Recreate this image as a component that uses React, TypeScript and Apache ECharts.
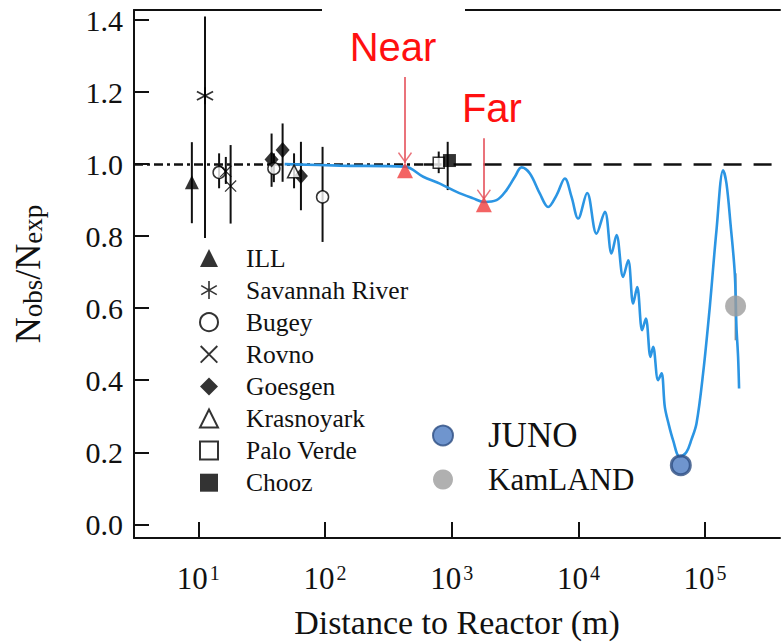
import React, { useEffect, useRef } from 'react';
import * as echarts from 'echarts';

// ---- Data (distance in m, Nobs/Nexp) ----
const illPoints = [[8.9, 0.95]];
const illErrors = [[8.9, 0.836, 1.061]];
const savannahPoints = [[11.3, 1.19]];
const savannahErrors = [[11.3, 0.795, 1.41]];
const bugeyPoints = [[14.6, 0.977], [39.5, 0.988], [95.7, 0.909]];
const bugeyErrors = [[14.6, 0.933, 1.03], [39.5, 0.95, 1.03], [95.7, 0.784, 1.048]];
const rovnoPoints = [[16.5, 0.98], [18.0, 0.939]];
const rovnoErrors = [[16.5, 0.945, 1.02], [18.0, 0.835, 1.053]];
const goesgenPoints = [[37.9, 1.013], [46.3, 1.039], [64.6, 0.967]];
const goesgenErrors = [[37.9, 0.937, 1.085], [46.3, 0.951, 1.113], [64.6, 0.872, 1.062]];
const krasnoyarskPoints = [[57, 0.98]];
const krasnoyarskErrors = [[57, 0.933, 1.03]];
const paloVerdePoints = [[790, 1.004]];
const paloVerdeErrors = [[790, 0.975, 1.035]];
const choozPoints = [[960, 1.01]];
const choozErrors = [[930, 0.928, 1.062]];
const nearFarPoints = [[428, 0.983], [1795, 0.889]];
const nearFarLabels = ['Near', 'Far'];
const arrowTop = [1.242, 1.072];
const arrowTip = [1.003, 0.9];
const junoPoints = [[64300, 0.164]];
const kamlandPoints = [[174000, 0.606]];
const kamlandErrors = [[174000, 0.511, 0.697]];

const curveDistance = [48, 131, 428, 596, 807, 1094, 1479, 1795, 2259, 2709, 3153, 3558, 4140, 4966, 5774,
  6730, 7820, 8830, 9950, 11720, 13900, 16180, 18270, 20000, 22550, 24720, 27060, 29100, 31860, 34070,
  37070, 38900, 42580, 45290, 48080, 51070, 55930, 63140, 71340, 78000, 85500, 96400, 108900, 123000,
  138800, 147500, 158600, 171500, 176800, 182100, 185400];
const curveRatio = [1.0, 0.996, 0.993, 0.965, 0.946, 0.923, 0.905, 0.895, 0.9, 0.928, 0.965, 0.991, 0.974, 0.918, 0.881,
  0.914, 0.96, 0.909, 0.849, 0.92, 0.807, 0.868, 0.752, 0.803, 0.687, 0.733, 0.613, 0.659, 0.539, 0.571,
  0.465, 0.493, 0.4, 0.419, 0.326, 0.284, 0.233, 0.187, 0.201, 0.235, 0.28, 0.419, 0.604, 0.817,
  0.983, 0.946, 0.835, 0.696, 0.548, 0.465, 0.377];

const yTicks = [0, 0.2, 0.4, 0.6, 0.8, 1.0, 1.2, 1.4];
const xTicks = [10, 100, 1000, 10000, 100000];

const X_MIN = 3.11;
const X_MAX = 390000;
const Y_MIN = -0.038;
const Y_MAX = 1.428;

const SERIF = '"Liberation Serif", "Times New Roman", Times, "DejaVu Serif", serif';
const SANS = '"Liberation Sans", Arial, Helvetica, sans-serif';

const ASTERISK = 'path://M-0.9,-10L0.9,-10L0.9,10L-0.9,10Z M8.21,-5.78L9.11,-4.22L-8.21,5.78L-9.11,4.22Z M9.11,4.22L8.21,5.78L-9.11,-4.22L-8.21,-5.78Z';
const CROSS = 'path://M6.505,-7.637L7.637,-6.505L-6.505,7.637L-7.637,6.505Z M7.637,6.505L6.505,7.637L-7.637,-6.505L-6.505,-7.637Z';
const CHEVRON = 'path://M0,10L-7,1L-6,0L0,7.6L6,0L7,1Z';

const openStyle = { color: '#fff', borderColor: '#000', borderWidth: 1.5 };
const ARROW_COLOR = '#e5505a';

function errorSeries(name: string, data: number[][], color: string) {
  return {
    name,
    type: 'custom',
    z: 1,
    silent: true,
    data,
    encode: { x: 0, y: [1, 2] },
    renderItem: (params: any, api: any) => {
      const x = api.value(0);
      const p1 = api.coord([x, api.value(1)]);
      const p2 = api.coord([x, api.value(2)]);
      return {
        type: 'line',
        shape: { x1: p1[0], y1: p1[1], x2: p2[0], y2: p2[1] },
        style: { stroke: color, lineWidth: 2 },
      };
    },
  };
}

export default function App() {
  const ref = useRef<HTMLDivElement>(null);
  useEffect(() => {
    if (!ref.current) return;
    const chart = echarts.init(ref.current, null, { renderer: 'svg' });
    const blackErrors = [
      ...illErrors, ...savannahErrors, ...bugeyErrors, ...rovnoErrors, ...goesgenErrors,
      ...krasnoyarskErrors, ...paloVerdeErrors, ...choozErrors,
    ];
    const option: any = {
      animation: false,
      backgroundColor: '#fff',
      textStyle: { fontFamily: SERIF },
      grid: { left: 134, right: 2, top: 10, bottom: 105, containLabel: false, outerBoundsMode: 'none' },
      xAxis: [
        {
          type: 'log',
          logBase: 10,
          min: X_MIN,
          max: X_MAX,
          position: 'bottom',
          name: 'Distance to Reactor (m)',
          nameLocation: 'middle',
          nameGap: 67,
          nameMoveOverlap: false,
          nameTextStyle: { fontFamily: SERIF, fontSize: 34, color: '#111' },
          axisLine: { show: true, onZero: false, lineStyle: { color: '#111', width: 2 } },
          axisTick: { show: true, inside: true, length: 16, customValues: xTicks, lineStyle: { color: '#111', width: 2 } },
          splitLine: { show: false },
          minorTick: { show: false },
          axisLabel: {
            customValues: xTicks,
            margin: 25,
            formatter: (v: number) => `{b|10}{s|${Math.round(Math.log10(v))}}`,
            rich: {
              b: { fontFamily: SERIF, fontSize: 31, color: '#111' },
              s: { fontFamily: SERIF, fontSize: 20, color: '#111', verticalAlign: 'top', padding: [0, 0, 0, 2] },
            },
          },
        },
        {
          type: 'log',
          logBase: 10,
          min: X_MIN,
          max: X_MAX,
          position: 'top',
          axisLine: { show: true, onZero: false, lineStyle: { color: '#111', width: 2 } },
          axisTick: { show: false },
          axisLabel: { show: false },
          splitLine: { show: false },
        },
      ],
      yAxis: {
        type: 'value',
        min: Y_MIN,
        max: Y_MAX,
        name: '{N|N}{s|obs}{N|/N}{s|exp}',
        nameLocation: 'middle',
        nameRotate: 90,
        nameGap: 88,
        nameMoveOverlap: false,
        nameTextStyle: {
          rich: {
            N: { fontFamily: SERIF, fontSize: 36, color: '#111', lineHeight: 36 },
            s: { fontFamily: SERIF, fontSize: 27, color: '#111', verticalAlign: 'bottom', lineHeight: 27 },
          },
        },
        axisLine: { show: true, onZero: false, lineStyle: { color: '#111', width: 2 } },
        axisTick: { show: true, inside: true, length: 15, customValues: yTicks, lineStyle: { color: '#111', width: 2 } },
        splitLine: { show: false },
        axisLabel: {
          customValues: yTicks,
          margin: 11,
          fontFamily: SERIF,
          fontSize: 30,
          color: '#111',
          formatter: (v: number) => v.toFixed(1),
        },
      },
      legend: [
        {
          data: [
            { name: 'ILL', icon: 'triangle' },
            { name: 'Savannah River', icon: ASTERISK },
            { name: 'Bugey', icon: 'circle' },
            { name: 'Rovno', icon: CROSS },
            { name: 'Goesgen', icon: 'diamond' },
            { name: 'Krasnoyark', icon: 'triangle' },
            { name: 'Palo Verde', icon: 'rect' },
            { name: 'Chooz', icon: 'rect' },
          ],
          orient: 'vertical',
          left: 199,
          top: 245,
          padding: 0,
          itemWidth: 18,
          itemHeight: 18,
          itemGap: 6.1,
          selectedMode: false,
          textStyle: { fontFamily: SERIF, fontSize: 25.5, lineHeight: 24, color: '#111', padding: [0, 0, 0, 23] },
        },
        {
          data: [
            { name: 'JUNO', icon: 'circle', textStyle: { fontSize: 35 } },
            { name: 'KamLAND', icon: 'circle', textStyle: { fontSize: 31 } },
          ],
          orient: 'vertical',
          left: 427,
          top: 413,
          itemWidth: 20,
          itemHeight: 20,
          itemGap: 10,
          selectedMode: false,
          textStyle: { fontFamily: SERIF, fontSize: 33, lineHeight: 33, color: '#111', padding: [0, 0, 0, 30] },
        },
      ],
      graphic: [
        { type: 'rect', z: 100, shape: { x: 322, y: 0, width: 143, height: 22 }, style: { fill: '#fff' } },
      ],
      series: [
        errorSeries('blackErrors', blackErrors, '#111'),
        errorSeries('kamlandErrors', kamlandErrors, '#8f8f8f'),
        {
          name: 'oscillation',
          type: 'line',
          z: 2,
          data: curveDistance.map((d, i) => [d, curveRatio[i]]),
          showSymbol: false,
          symbol: 'none',
          smooth: 0.35,
          lineStyle: { color: '#2b95e3', width: 2.6 },
          silent: true,
          markLine: {
            silent: true,
            symbol: 'none',
            z: 1,
            label: { show: false },
            data: [
              [
                { coord: [X_MIN, 1], lineStyle: { color: '#111', width: 2.5, type: [9, 4, 3, 4] } },
                { coord: [600, 1] },
              ],
              [
                { coord: [600, 1], lineStyle: { color: '#111', width: 2.5, type: [18, 12] } },
                { coord: [X_MAX, 1] },
              ],
            ],
          },
        },
        { name: 'ILL', type: 'scatter', z: 3, data: illPoints, symbol: 'triangle', symbolSize: 14, itemStyle: { color: '#000' } },
        { name: 'Savannah River', type: 'scatter', z: 3, data: savannahPoints, symbol: ASTERISK, symbolSize: 17, itemStyle: { color: '#000' } },
        { name: 'Bugey', type: 'scatter', z: 3, data: bugeyPoints, symbol: 'circle', symbolSize: 12, itemStyle: openStyle },
        { name: 'Rovno', type: 'scatter', z: 3, data: rovnoPoints, symbol: CROSS, symbolSize: 12, itemStyle: { color: '#000' } },
        { name: 'Goesgen', type: 'scatter', z: 3, data: goesgenPoints, symbol: 'diamond', symbolSize: [14, 16], itemStyle: { color: '#000' } },
        { name: 'Krasnoyark', type: 'scatter', z: 3, data: krasnoyarskPoints, symbol: 'triangle', symbolSize: 13, itemStyle: openStyle },
        { name: 'Palo Verde', type: 'scatter', z: 3, data: paloVerdePoints, symbol: 'rect', symbolSize: 11, itemStyle: openStyle },
        { name: 'Chooz', type: 'scatter', z: 3, data: choozPoints, symbol: 'rect', symbolSize: 13, itemStyle: { color: '#000' } },
        {
          name: 'Near/Far',
          type: 'scatter',
          z: 4,
          data: nearFarPoints,
          symbol: 'triangle',
          symbolSize: 16,
          itemStyle: { color: '#f03c3c' },
          markLine: {
            silent: true,
            z: 6,
            symbol: 'none',
            lineStyle: { color: ARROW_COLOR, width: 1.6, type: 'solid' },
            data: nearFarPoints.map((p, i) => [
              {
                coord: [p[0], arrowTop[i]],
                label: {
                  show: true,
                  position: 'start',
                  formatter: nearFarLabels[i],
                  color: '#ff1010',
                  fontFamily: SANS,
                  fontSize: 40,
                  distance: 10,
                  padding: i === 0 ? [0, 24, 0, 0] : [0, 0, 0, 16],
                },
              },
              { coord: [p[0], arrowTip[i]] },
            ]),
          },
        },
        {
          name: 'arrowHeads',
          type: 'scatter',
          z: 6,
          silent: true,
          data: nearFarPoints.map((p, i) => [p[0], arrowTip[i]]),
          symbol: CHEVRON,
          symbolSize: [14, 11],
          symbolOffset: [0, -5.5],
          itemStyle: { color: ARROW_COLOR },
        },
        {
          name: 'JUNO', type: 'scatter', z: 5, data: junoPoints, symbol: 'circle', symbolSize: 19,
          itemStyle: { color: '#4b7bc2', borderColor: '#2d4d82', borderWidth: 3 },
        },
        {
          name: 'KamLAND', type: 'scatter', z: 5, data: kamlandPoints, symbol: 'circle', symbolSize: 21,
          itemStyle: { color: '#9c9c9c' },
        },
      ],
    };
    chart.setOption(option);
    return () => chart.dispose();
  }, []);
  return (
    <div
      ref={ref}
      style={{ position: 'fixed', left: 0, top: 0, width: 782, height: 643, background: '#fff' }}
    />
  );
}
